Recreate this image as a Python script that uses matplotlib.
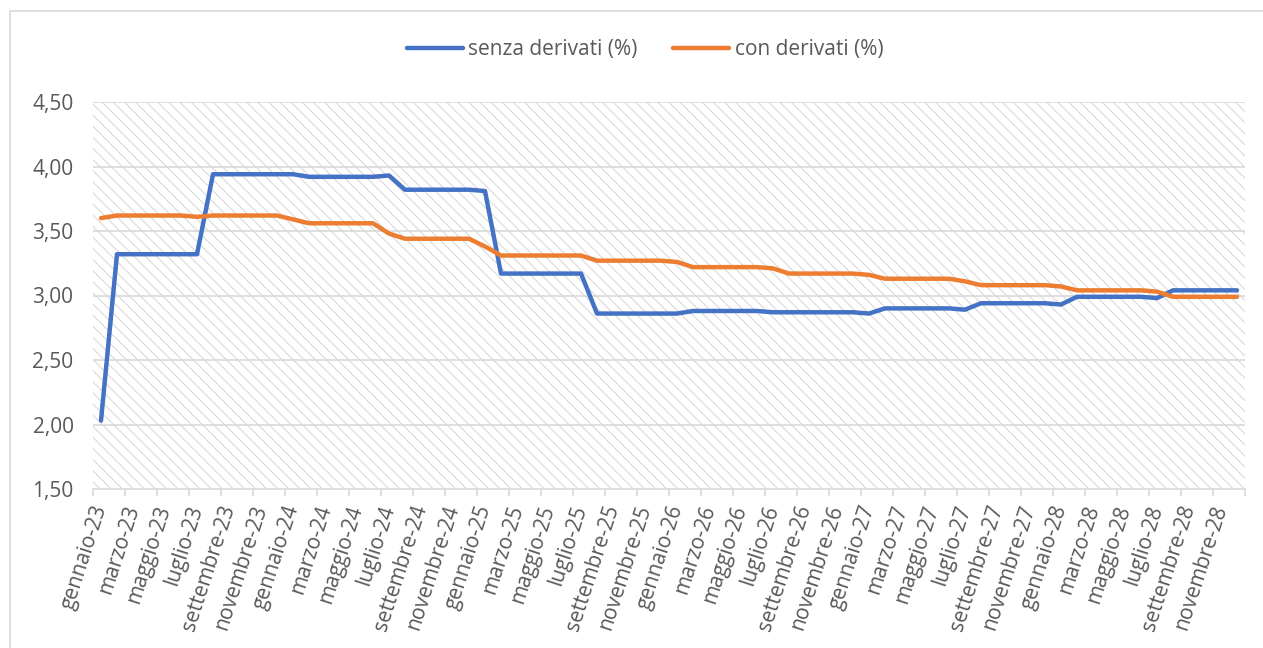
import matplotlib
matplotlib.use('Agg')
import matplotlib.pyplot as plt
from matplotlib.patches import Rectangle

mesi = ['gennaio', 'febbraio', 'marzo', 'aprile', 'maggio', 'giugno',
        'luglio', 'agosto', 'settembre', 'ottobre', 'novembre', 'dicembre']
anni = ['23', '24', '25', '26', '27', '28']
categorie = [m + '-' + a for a in anni for m in mesi]

senza_derivati = [
    2.03, 3.32, 3.32, 3.32, 3.32, 3.32, 3.32, 3.94, 3.94, 3.94, 3.94, 3.94,
    3.94, 3.92, 3.92, 3.92, 3.92, 3.92, 3.93, 3.82, 3.82, 3.82, 3.82, 3.82,
    3.81, 3.17, 3.17, 3.17, 3.17, 3.17, 3.17, 2.86, 2.86, 2.86, 2.86, 2.86,
    2.86, 2.88, 2.88, 2.88, 2.88, 2.88, 2.87, 2.87, 2.87, 2.87, 2.87, 2.87,
    2.86, 2.90, 2.90, 2.90, 2.90, 2.90, 2.89, 2.94, 2.94, 2.94, 2.94, 2.94,
    2.93, 2.99, 2.99, 2.99, 2.99, 2.99, 2.98, 3.04, 3.04, 3.04, 3.04, 3.04,
]
con_derivati = [
    3.60, 3.62, 3.62, 3.62, 3.62, 3.62, 3.61, 3.62, 3.62, 3.62, 3.62, 3.62,
    3.59, 3.56, 3.56, 3.56, 3.56, 3.56, 3.48, 3.44, 3.44, 3.44, 3.44, 3.44,
    3.38, 3.31, 3.31, 3.31, 3.31, 3.31, 3.31, 3.27, 3.27, 3.27, 3.27, 3.27,
    3.26, 3.22, 3.22, 3.22, 3.22, 3.22, 3.21, 3.17, 3.17, 3.17, 3.17, 3.17,
    3.16, 3.13, 3.13, 3.13, 3.13, 3.13, 3.11, 3.08, 3.08, 3.08, 3.08, 3.08,
    3.07, 3.04, 3.04, 3.04, 3.04, 3.04, 3.03, 2.99, 2.99, 2.99, 2.99, 2.99,
]
y_ticks = [1.5, 2.0, 2.5, 3.0, 3.5, 4.0, 4.5]

GRAY = '#595959'
GRID = '#d9d9d9'
plt.rcParams['font.family'] = ['Open Sans', 'DejaVu Sans']
plt.rcParams['hatch.color'] = '#d4d4d4'
plt.rcParams['hatch.linewidth'] = 0.7

W, H = 1263, 648
fig = plt.figure(figsize=(W / 100, H / 100), dpi=100)
ax = fig.add_axes([93 / W, 1 - 489 / H, 1152 / W, 387 / H])

x = list(range(len(categorie)))

# patterned plot area like the Excel original
ax.add_patch(Rectangle((0, 0), 1, 1, transform=ax.transAxes, facecolor='white',
                       edgecolor='#d4d4d4', hatch='\\\\\\', lw=0, zorder=0))

ax.plot(x, senza_derivati, color='#4472C4', lw=3.2, solid_joinstyle='round',
        solid_capstyle='round', label='senza derivati (%)', zorder=3)
ax.plot(x, con_derivati, color='#ED7D31', lw=3.2, solid_joinstyle='round',
        solid_capstyle='round', label='con derivati (%)', zorder=3)

ax.set_xlim(-0.5, len(categorie) - 0.5)
ax.set_ylim(1.5, 4.5)
ax.set_yticks(y_ticks)
ax.set_yticklabels([('%.2f' % v).replace('.', ',') for v in y_ticks])
for v in y_ticks[1:]:
    ax.axhline(v, color=GRID, lw=1.2, zorder=1)

ax.set_xticks(x[::2])
ax.set_xticklabels(categorie[::2], rotation=72, ha='right', va='center',
                   rotation_mode='anchor')
ax.set_xticks([i - 0.5 for i in range(0, len(categorie) + 1, 2)], minor=True)
ax.tick_params(axis='x', which='major', length=0, pad=12, labelsize=15, labelcolor=GRAY)
ax.tick_params(axis='x', which='minor', length=5, width=1.2, color=GRID)
ax.tick_params(axis='y', length=0, pad=14, labelsize=15, labelcolor=GRAY)

for s in ['top', 'right', 'left']:
    ax.spines[s].set_visible(False)
ax.spines['bottom'].set_color(GRID)
ax.spines['bottom'].set_linewidth(1.2)
ax.spines['bottom'].set_zorder(2)

leg = fig.legend(loc='center', bbox_to_anchor=(645 / W, 1 - 50 / H), ncol=2,
                 frameon=False, fontsize=15, handlelength=2.7, handletextpad=0.25,
                 columnspacing=1.7)
for t in leg.get_texts():
    t.set_color(GRAY)

# outer chart frame
fig.patches.append(Rectangle((9.5 / W, -0.1), 1.2, 1.1 - 11.5 / H, transform=fig.transFigure,
                             fill=False, edgecolor=GRID, lw=1.2))

fig.savefig('out.png', dpi=100)
